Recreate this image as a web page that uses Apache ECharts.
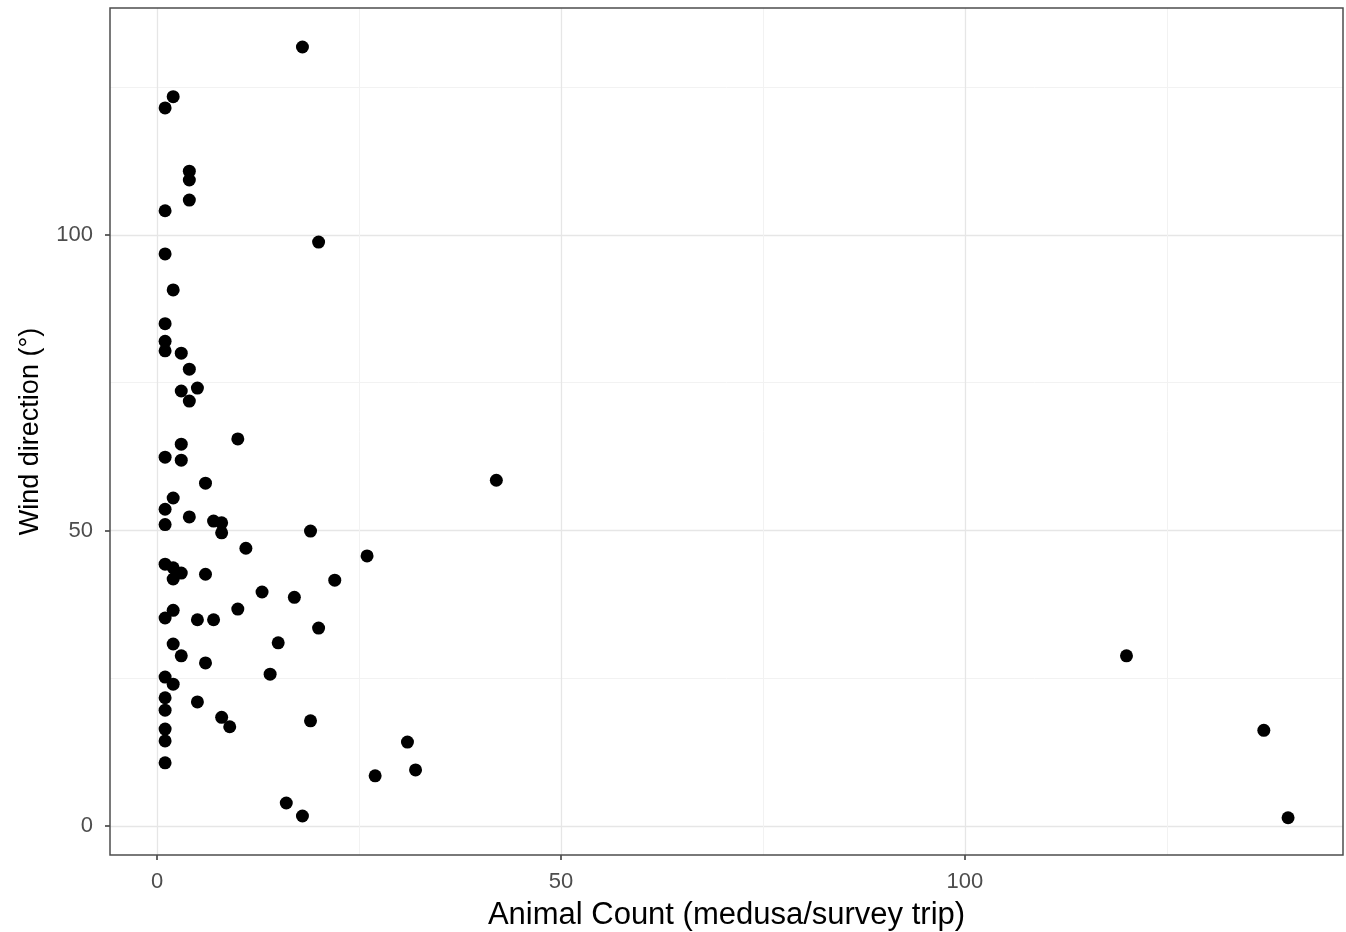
<!DOCTYPE html>
<html>
<head>
<meta charset="utf-8">
<script src="https://cdn.jsdelivr.net/npm/echarts@6/dist/echarts.min.js"></script>
<style>
  html, body { margin: 0; padding: 0; background: #fff; }
  #chart { width: 1346px; height: 932px; }
</style>
</head>
<body>
<div id="chart"></div>
<script>
// medusa counts per survey trip vs wind direction
const animalCount = [
  18, 2, 1, 4, 4, 4, 1, 20, 1, 2,
  1, 1, 1, 3, 4, 5, 3, 4, 10, 3,
  1, 3, 6, 42, 2, 1, 4, 7, 8, 8,
  1, 19, 11, 26, 1, 2, 3, 2, 6, 22,
  13, 17, 2, 10, 1, 5, 7, 20, 2, 15,
  3, 6, 14, 1, 2, 1, 5, 1, 8, 19,
  9, 1, 1, 31, 1, 32, 27, 16, 18, 120,
  137, 140
];
const windDirection = [
  131.8, 123.4, 121.5, 110.8, 109.3, 105.9, 104.1, 98.8, 96.8, 90.7,
  85.0, 82.0, 80.4, 80.0, 77.3, 74.1, 73.6, 71.9, 65.5, 64.6,
  62.4, 61.9, 58.0, 58.5, 55.5, 53.6, 52.3, 51.6, 51.3, 49.6,
  51.0, 49.9, 47.0, 45.7, 44.3, 43.7, 42.8, 41.8, 42.6, 41.6,
  39.6, 38.7, 36.5, 36.7, 35.2, 34.9, 34.9, 33.5, 30.8, 31.0,
  28.8, 27.6, 25.7, 25.2, 24.0, 21.7, 21.0, 19.6, 18.4, 17.8,
  16.8, 16.4, 14.4, 14.2, 10.7, 9.5, 8.5, 3.9, 1.7, 28.8,
  16.2, 1.4
];
const majorTicks = [0, 50, 100];
const minorTicks = [25, 75, 125];
const xRange = [-5.82, 146.8];
const yRange = [-4.9, 138.4];

const points = animalCount.map((v, i) => [v, windDirection[i]]);

const chart = echarts.init(document.getElementById("chart"));
const font = "Liberation Sans";
const tickLabel = { color: "#4d4d4d", fontSize: 22, fontFamily: font };
const majorLine = { lineStyle: { color: "#e6e6e6", width: 1.3 } };
const minorLine = { lineStyle: { color: "#f2f2f2", width: 1 } };
const tickStyle = { color: "#333", width: 1.5 };

chart.setOption({
  animation: false,
  grid: {
    left: 110, right: 3, top: 8, bottom: 77,
    outerBoundsMode: "none",
    show: true, borderColor: "#4d4d4d", borderWidth: 1.5, z: 5,
  },
  xAxis: [
    {
      type: "value",
      min: xRange[0],
      max: xRange[1],
      name: "Animal Count (medusa/survey trip)",
      nameLocation: "middle",
      nameGap: 45,
      nameTextStyle: { color: "#000", fontSize: 31, fontFamily: font },
      axisLine: { show: false, onZero: false },
      axisTick: { show: true, length: 5, customValues: majorTicks, lineStyle: tickStyle },
      axisLabel: { ...tickLabel, margin: 16, customValues: majorTicks },
      splitLine: { show: true, ...majorLine },
    },
    {
      type: "value",
      min: xRange[0],
      max: xRange[1],
      position: "bottom",
      axisLine: { show: false, onZero: false },
      axisTick: { show: false, customValues: minorTicks },
      axisLabel: { show: false, customValues: minorTicks },
      splitLine: { show: true, ...minorLine },
    },
  ],
  yAxis: [
    {
      type: "value",
      min: yRange[0],
      max: yRange[1],
      name: "Wind direction (°)",
      nameLocation: "middle",
      nameGap: 66,
      nameTextStyle: { color: "#000", fontSize: 27, fontFamily: font },
      axisLine: { show: false, onZero: false },
      axisTick: { show: true, length: 5, customValues: majorTicks, lineStyle: tickStyle },
      axisLabel: { ...tickLabel, margin: 17, customValues: majorTicks },
      splitLine: { show: true, ...majorLine },
    },
    {
      type: "value",
      min: yRange[0],
      max: yRange[1],
      position: "left",
      axisLine: { show: false, onZero: false },
      axisTick: { show: false, customValues: minorTicks },
      axisLabel: { show: false, customValues: minorTicks },
      splitLine: { show: true, ...minorLine },
    },
  ],
  series: [
    {
      type: "scatter",
      data: points,
      symbolSize: 13,
      itemStyle: { color: "#000", opacity: 1 },
      z: 10,
    },
  ],
});
</script>
</body>
</html>
